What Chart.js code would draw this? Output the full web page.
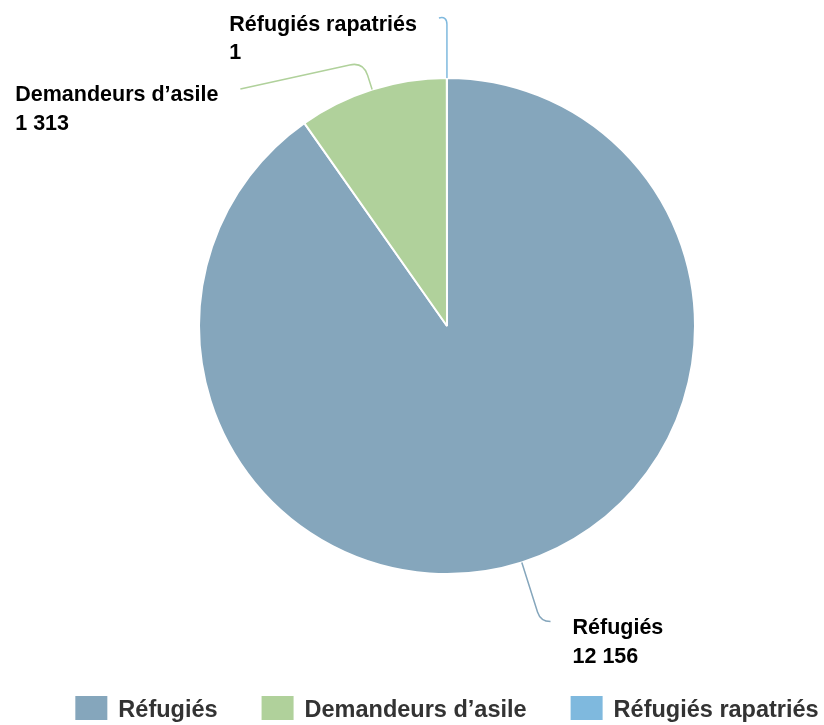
<!DOCTYPE html>
<html>
<head>
<meta charset="utf-8">
<script src="https://cdn.jsdelivr.net/npm/chart.js@4"></script>
<style>
  html, body { margin: 0; padding: 0; background: #fff; }
</style>
</head>
<body>
<canvas id="pieChart" width="824" height="725"></canvas>
<script>
const categories = ['Réfugiés', 'Demandeurs d’asile', 'Réfugiés rapatriés'];
const values = [12156, 1313, 1];
const colors = ['#85a6bc', '#b0d19b', '#7fb9de'];

// leader line per slice: how far past the rim it goes, then where it ends
const connectors = [
    { out: 62, dx: 10, dy: 0, side: 'right' },
    { out: 29, dx: -123, dy: 27, side: 'left' },
    { out: 62, dx: -8, dy: 2, side: 'left' }
];

const labelFont = 'bold 21.5px "Liberation Sans", Arial, sans-serif';
const legendFont = 'bold 23.5px "Liberation Sans", Arial, sans-serif';

function fmt(v) {
    return String(v).replace(/\B(?=(\d{3})+(?!\d))/g, ' ');
}

const pieLabels = {
    id: 'pieLabels',
    afterDatasetsDraw(chart) {
        const ctx = chart.ctx;
        const meta = chart.getDatasetMeta(0);
        ctx.save();
        meta.data.forEach((arc, i) => {
            const c = connectors[i];
            const mid = (arc.startAngle + arc.endAngle) / 2;
            const cos = Math.cos(mid), sin = Math.sin(mid);
            const r = arc.outerRadius;
            const p0 = { x: arc.x + cos * r, y: arc.y + sin * r };
            const p1 = { x: arc.x + cos * (r + c.out), y: arc.y + sin * (r + c.out) };
            const p2 = { x: p1.x + c.dx, y: p1.y + c.dy };

            const l1 = Math.hypot(p1.x - p0.x, p1.y - p0.y);
            const l2 = Math.hypot(p2.x - p1.x, p2.y - p1.y);
            const k = Math.min(14, l1 / 2, l2);
            const a = { x: p1.x - (p1.x - p0.x) / l1 * k, y: p1.y - (p1.y - p0.y) / l1 * k };
            const b = { x: p1.x + (p2.x - p1.x) / l2 * k, y: p1.y + (p2.y - p1.y) / l2 * k };

            ctx.beginPath();
            ctx.moveTo(p0.x, p0.y);
            ctx.lineTo(a.x, a.y);
            ctx.quadraticCurveTo(p1.x, p1.y, b.x, b.y);
            ctx.lineTo(p2.x, p2.y);
            ctx.strokeStyle = colors[i];
            ctx.lineWidth = 1.5;
            ctx.stroke();

            // two-line label, left aligned as a block
            ctx.font = labelFont;
            ctx.fillStyle = '#000';
            ctx.textBaseline = 'alphabetic';
            ctx.textAlign = 'left';
            const lines = [categories[i], fmt(values[i])];
            const w = Math.max(...lines.map(t => ctx.measureText(t).width));
            const tx = c.side === 'right' ? p2.x + 22 : p2.x - 22 - w;
            ctx.fillText(lines[0], tx, p2.y + 12.5);
            ctx.fillText(lines[1], tx, p2.y + 41);
        });
        ctx.restore();
    }
};

const bottomLegend = {
    id: 'bottomLegend',
    afterDraw(chart) {
        const ctx = chart.ctx;
        const area = chart.chartArea;
        const boxW = 32, boxH = 24, textGap = 11, itemGap = 44;
        ctx.save();
        ctx.font = legendFont;
        const widths = categories.map(t => boxW + textGap + ctx.measureText(t).width);
        const total = widths.reduce((s, w) => s + w, 0) + itemGap * (widths.length - 1);
        let x = (area.left + area.right) / 2 - total / 2;
        const y = 696;
        categories.forEach((t, i) => {
            ctx.fillStyle = colors[i];
            ctx.fillRect(x, y, boxW, boxH);
            ctx.fillStyle = '#333';
            ctx.textAlign = 'left';
            ctx.textBaseline = 'alphabetic';
            ctx.fillText(t, x + boxW + textGap, y + 21);
            x += widths[i] + itemGap;
        });
        ctx.restore();
    }
};

new Chart(document.getElementById('pieChart'), {
    type: 'pie',
    data: {
        labels: categories,
        datasets: [{
            data: values,
            backgroundColor: colors,
            borderColor: '#fff',
            borderWidth: 2
        }]
    },
    options: {
        responsive: false,
        animation: false,
        layout: {
            padding: { left: 70, right: 0, top: 77, bottom: 150 }
        },
        plugins: {
            legend: { display: false },
            tooltip: { enabled: false }
        }
    },
    plugins: [pieLabels, bottomLegend]
});
</script>
</body>
</html>
